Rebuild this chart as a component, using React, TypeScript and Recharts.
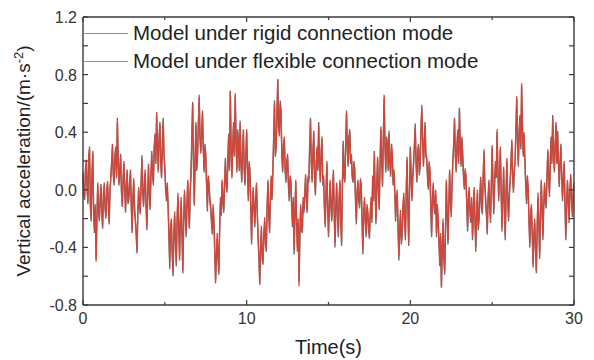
import React from "react";
import { LineChart, Line, XAxis, YAxis, Label } from "recharts";

const FONT = "'Liberation Sans', Arial, sans-serif";

// sampling step of the recorded signal, seconds
const STEP = 0.05;

// vertical acceleration, rigid connection mode (m/s^2) (one row per second)
const rigid = [
  0.12, -0.04, -0.07, 0.13, 0.19, 0.0, -0.1, 0.22, 0.28, -0.12, -0.22, 0.1, 0.27, -0.17, -0.3, -0.12, -0.48, -0.22, 0.03, -0.14,
  -0.22, -0.07, 0.04, -0.17, -0.27, -0.04, 0.03, -0.14, -0.2, -0.02, 0.06, -0.12, -0.24, -0.02, 0.08, 0.18, 0.3, 0.1, 0.03, 0.24,
  0.3, 0.08, 0.47, 0.22, 0.03, 0.13, 0.25, -0.02, -0.12, 0.06, 0.18, 0.0, -0.16, 0.03, 0.14, -0.1, -0.07, 0.04, 0.12, -0.12,
  -0.3, -0.07, 0.06, -0.14, -0.22, -0.32, -0.44, -0.17, 0.0, -0.12, -0.17, 0.03, 0.24, -0.02, -0.12, 0.03, 0.12, -0.1, -0.28, -0.07,
  0.16, -0.02, -0.14, 0.08, 0.27, 0.1, 0.03, 0.3, 0.39, 0.18, 0.52, 0.32, 0.12, 0.37, 0.47, 0.18, 0.08, 0.32, 0.5, 0.23,
  0.14, 0.0, -0.08, 0.03, -0.13, -0.33, -0.55, -0.28, -0.23, -0.45, -0.6, -0.33, -0.18, -0.38, -0.53, -0.23, -0.05, -0.28, -0.49, -0.23,
  -0.08, -0.33, -0.58, -0.23, -0.03, -0.18, -0.33, -0.12, 0.05, -0.14, -0.27, -0.02, 0.12, 0.37, 0.61, 0.18, -0.11, 0.22, 0.47, 0.13,
  0.23, 0.47, 0.64, 0.37, 0.27, 0.38, 0.55, 0.28, 0.12, 0.32, 0.23, 0.03, -0.15, 0.08, 0.03, -0.08, -0.13, -0.23, -0.31, -0.13,
  -0.24, -0.43, -0.63, -0.48, -0.34, -0.48, -0.59, -0.28, -0.08, -0.18, 0.05, -0.08, -0.16, 0.03, 0.22, 0.03, -0.02, 0.22, 0.39, 0.13,
  0.69, 0.28, 0.08, 0.32, 0.47, 0.23, 0.65, 0.37, 0.12, 0.42, 0.32, 0.13, 0.48, 0.18, 0.05, 0.27, 0.42, 0.13, 0.03, 0.23,
  0.4, 0.13, -0.08, 0.18, 0.12, -0.13, -0.38, -0.13, 0.0, -0.15, -0.26, -0.08, 0.03, -0.18, -0.35, -0.48, -0.66, -0.43, -0.28, -0.48,
  -0.52, -0.33, -0.22, -0.38, -0.43, -0.13, 0.05, -0.18, -0.3, -0.08, 0.08, -0.07, 0.12, 0.37, 0.62, 0.23, 0.28, 0.52, 0.77, 0.43,
  0.39, 0.62, 0.55, 0.23, 0.12, 0.32, 0.35, 0.13, 0.05, 0.18, 0.23, 0.03, -0.08, 0.08, 0.05, -0.13, -0.26, -0.08, -0.45, -0.18,
  0.05, -0.23, -0.43, -0.23, -0.64, -0.33, -0.12, -0.28, -0.3, -0.08, -0.16, -0.04, 0.09, -0.08, -0.16, 0.08, 0.05, 0.32, 0.5, 0.18,
  0.05, 0.27, 0.41, 0.08, -0.04, 0.18, 0.28, 0.13, 0.47, 0.18, 0.05, 0.27, 0.35, 0.03, 0.08, -0.13, -0.26, -0.03, 0.18, -0.13,
  -0.33, -0.13, 0.05, -0.13, -0.22, -0.03, 0.12, -0.18, -0.4, -0.13, 0.03, -0.18, -0.33, -0.08, 0.05, -0.23, -0.39, 0.03, 0.34, 0.08,
  0.05, 0.32, 0.53, 0.28, 0.16, 0.37, 0.42, 0.18, 0.23, 0.08, 0.05, 0.18, 0.13, -0.08, -0.24, -0.03, 0.05, -0.08, -0.13, 0.06,
  0.02, -0.23, -0.45, -0.18, -0.08, -0.23, -0.33, -0.13, -0.17, -0.28, -0.34, -0.18, -0.08, -0.23, 0.08, -0.08, 0.27, -0.02, -0.24, 0.03,
  0.21, -0.02, -0.14, 0.18, 0.42, 0.22, 0.02, 0.37, 0.64, 0.32, 0.12, 0.37, 0.32, 0.13, 0.41, 0.18, 0.09, 0.32, 0.23, 0.03,
  0.12, -0.03, -0.22, -0.08, -0.03, -0.28, -0.49, -0.28, -0.17, -0.38, -0.33, -0.13, -0.05, -0.23, -0.35, -0.03, 0.21, -0.13, -0.39, -0.03,
  0.3, 0.08, -0.08, 0.08, 0.18, 0.32, 0.46, 0.18, 0.05, 0.27, 0.32, 0.1, 0.16, 0.42, 0.57, 0.37, 0.16, 0.32, 0.47, 0.23,
  0.21, 0.08, 0.0, 0.18, 0.12, -0.13, -0.33, -0.08, 0.03, -0.13, -0.17, -0.03, -0.33, -0.13, -0.22, -0.38, -0.53, -0.33, -0.68, -0.43,
  -0.23, -0.48, -0.59, -0.28, 0.05, -0.18, -0.38, -0.13, 0.12, -0.08, -0.19, 0.03, 0.22, 0.32, 0.5, 0.23, 0.12, 0.32, 0.42, 0.18,
  0.57, 0.28, 0.16, 0.37, 0.23, 0.08, 0.0, 0.13, 0.08, -0.13, -0.29, -0.08, 0.0, -0.18, -0.23, -0.08, -0.35, -0.18, 0.0, -0.23,
  -0.43, -0.18, -0.02, -0.28, -0.21, -0.05, 0.07, -0.13, -0.17, 0.08, 0.28, 0.03, -0.08, -0.18, -0.31, -0.08, 0.05, -0.13, -0.23, 0.03,
  0.31, 0.03, -0.17, 0.03, 0.18, 0.08, 0.4, 0.13, -0.08, 0.1, 0.28, -0.02, -0.29, -0.08, 0.14, -0.13, -0.35, -0.03, 0.2, -0.08,
  -0.22, -0.05, 0.05, 0.18, 0.33, 0.08, -0.02, 0.13, 0.18, 0.42, 0.63, 0.33, 0.16, 0.42, 0.52, 0.28, 0.72, 0.43, 0.23, 0.38,
  0.19, 0.03, -0.1, 0.08, 0.0, -0.23, -0.4, -0.18, -0.13, -0.33, -0.54, -0.33, -0.23, -0.43, -0.58, -0.28, -0.05, -0.23, -0.48, -0.23,
  0.05, -0.13, -0.35, -0.13, 0.03, -0.08, -0.13, 0.08, 0.26, 0.08, -0.05, 0.18, 0.37, 0.18, 0.52, 0.28, 0.12, 0.32, 0.47, 0.18,
  0.41, 0.18, 0.02, 0.18, 0.32, 0.08, -0.08, 0.08, 0.18, -0.13, -0.35, -0.13, 0.05, -0.08, -0.23, -0.03, 0.09, -0.08, -0.19, -0.03,
  0.03,
];

// vertical acceleration, flexible connection mode (m/s^2)
const flexible = [
  0.1, -0.02, -0.05, 0.15, 0.21, 0.02, -0.08, 0.24, 0.3, -0.1, -0.2, 0.12, 0.25, -0.15, -0.28, -0.1, -0.5, -0.2, 0.05, -0.12,
  -0.2, -0.05, 0.02, -0.15, -0.25, -0.02, 0.05, -0.12, -0.18, 0.0, 0.04, -0.1, -0.22, 0.0, 0.1, 0.2, 0.32, 0.12, 0.05, 0.22,
  0.28, 0.1, 0.5, 0.2, 0.05, 0.15, 0.23, 0.0, -0.1, 0.08, 0.2, 0.02, -0.14, 0.05, 0.12, -0.08, -0.05, 0.06, 0.14, -0.1,
  -0.28, -0.05, 0.08, -0.12, -0.2, -0.3, -0.42, -0.15, 0.02, -0.1, -0.15, 0.05, 0.22, 0.0, -0.1, 0.05, 0.14, -0.08, -0.26, -0.05,
  0.18, 0.0, -0.12, 0.1, 0.25, 0.12, 0.05, 0.28, 0.37, 0.2, 0.54, 0.3, 0.14, 0.35, 0.45, 0.2, 0.1, 0.3, 0.48, 0.25,
  0.16, 0.02, -0.05, 0.05, -0.1, -0.3, -0.51, -0.25, -0.2, -0.42, -0.58, -0.3, -0.15, -0.35, -0.5, -0.2, -0.02, -0.25, -0.46, -0.2,
  -0.05, -0.3, -0.56, -0.2, 0.0, -0.15, -0.3, -0.1, 0.07, -0.12, -0.25, 0.0, 0.1, 0.35, 0.6, 0.2, -0.09, 0.2, 0.45, 0.15,
  0.25, 0.45, 0.66, 0.35, 0.25, 0.4, 0.53, 0.3, 0.14, 0.3, 0.25, 0.05, -0.12, 0.1, 0.05, -0.05, -0.1, -0.2, -0.28, -0.1,
  -0.21, -0.4, -0.65, -0.45, -0.3, -0.45, -0.56, -0.25, -0.05, -0.15, 0.07, -0.05, -0.14, 0.05, 0.2, 0.05, 0.0, 0.2, 0.37, 0.15,
  0.68, 0.3, 0.1, 0.3, 0.45, 0.25, 0.67, 0.35, 0.14, 0.4, 0.3, 0.15, 0.46, 0.2, 0.07, 0.25, 0.4, 0.15, 0.05, 0.25,
  0.42, 0.15, -0.05, 0.2, 0.14, -0.1, -0.35, -0.1, 0.02, -0.12, -0.23, -0.05, 0.05, -0.15, -0.32, -0.45, -0.65, -0.4, -0.25, -0.45,
  -0.49, -0.3, -0.19, -0.35, -0.4, -0.1, 0.07, -0.15, -0.28, -0.05, 0.1, -0.05, 0.14, 0.35, 0.6, 0.25, 0.3, 0.5, 0.76, 0.45,
  0.37, 0.6, 0.53, 0.25, 0.14, 0.3, 0.37, 0.15, 0.07, 0.2, 0.25, 0.05, -0.05, 0.1, 0.07, -0.1, -0.23, -0.05, -0.42, -0.15,
  0.07, -0.2, -0.4, -0.2, -0.67, -0.3, -0.1, -0.25, -0.28, -0.05, -0.14, -0.02, 0.11, -0.05, -0.14, 0.1, 0.07, 0.3, 0.48, 0.2,
  0.07, 0.25, 0.39, 0.1, -0.02, 0.2, 0.3, 0.15, 0.45, 0.2, 0.07, 0.25, 0.37, 0.05, 0.1, -0.1, -0.23, 0.0, 0.2, -0.1,
  -0.3, -0.1, 0.07, -0.1, -0.2, 0.0, 0.14, -0.15, -0.37, -0.1, 0.05, -0.15, -0.3, -0.05, 0.07, -0.2, -0.37, 0.05, 0.32, 0.1,
  0.07, 0.3, 0.55, 0.3, 0.18, 0.35, 0.4, 0.2, 0.25, 0.1, 0.07, 0.2, 0.15, -0.05, -0.21, 0.0, 0.07, -0.05, -0.1, 0.08,
  0.04, -0.2, -0.42, -0.15, -0.05, -0.2, -0.3, -0.1, -0.14, -0.25, -0.32, -0.15, -0.05, -0.2, 0.1, -0.05, 0.25, 0.0, -0.21, 0.05,
  0.23, 0.0, -0.12, 0.2, 0.44, 0.2, 0.04, 0.35, 0.66, 0.3, 0.14, 0.35, 0.3, 0.15, 0.39, 0.2, 0.11, 0.3, 0.25, 0.05,
  0.14, 0.0, -0.19, -0.05, 0.0, -0.25, -0.46, -0.25, -0.14, -0.35, -0.3, -0.1, -0.02, -0.2, -0.32, 0.0, 0.23, -0.1, -0.37, 0.0,
  0.28, 0.1, -0.05, 0.1, 0.2, 0.3, 0.44, 0.2, 0.07, 0.25, 0.3, 0.12, 0.18, 0.4, 0.59, 0.35, 0.18, 0.3, 0.45, 0.25,
  0.23, 0.1, 0.02, 0.2, 0.14, -0.1, -0.3, -0.05, 0.05, -0.1, -0.14, 0.0, -0.3, -0.1, -0.19, -0.35, -0.5, -0.3, -0.67, -0.4,
  -0.2, -0.45, -0.56, -0.25, 0.07, -0.15, -0.35, -0.1, 0.14, -0.05, -0.16, 0.05, 0.2, 0.3, 0.48, 0.25, 0.14, 0.3, 0.4, 0.2,
  0.55, 0.3, 0.18, 0.35, 0.25, 0.1, 0.02, 0.15, 0.1, -0.1, -0.26, -0.05, 0.02, -0.15, -0.2, -0.05, -0.32, -0.15, 0.02, -0.2,
  -0.4, -0.15, 0.0, -0.25, -0.19, -0.02, 0.09, -0.1, -0.14, 0.1, 0.26, 0.05, -0.05, -0.15, -0.28, -0.05, 0.07, -0.1, -0.2, 0.05,
  0.29, 0.05, -0.14, 0.05, 0.2, 0.1, 0.42, 0.15, -0.05, 0.12, 0.3, 0.0, -0.26, -0.05, 0.16, -0.1, -0.32, 0.0, 0.22, -0.05,
  -0.19, -0.02, 0.07, 0.2, 0.35, 0.1, 0.0, 0.15, 0.2, 0.4, 0.65, 0.35, 0.18, 0.4, 0.5, 0.3, 0.74, 0.45, 0.25, 0.4,
  0.21, 0.05, -0.07, 0.1, 0.02, -0.2, -0.37, -0.15, -0.1, -0.3, -0.51, -0.3, -0.2, -0.4, -0.56, -0.25, -0.02, -0.2, -0.45, -0.2,
  0.07, -0.1, -0.32, -0.1, 0.05, -0.05, -0.1, 0.1, 0.28, 0.1, -0.02, 0.2, 0.35, 0.2, 0.5, 0.3, 0.14, 0.3, 0.45, 0.2,
  0.39, 0.2, 0.04, 0.2, 0.3, 0.1, -0.05, 0.1, 0.2, -0.1, -0.32, -0.1, 0.07, -0.05, -0.2, 0.0, 0.11, -0.05, -0.16, 0.0,
  0.05,
];

const seriesNames = ["Model under rigid connection mode", "Model under flexible connection mode"];
const seriesColors = ["#6e6e6e", "#d2463a"];
const legendColors = ["#8a8a8a", "#ec6b5f"];

const xTicks = [0, 5, 10, 15, 20, 25, 30];
const xLabeled = [0, 10, 20, 30];
const yTicks = [-0.8, -0.6, -0.4, -0.2, 0, 0.2, 0.4, 0.6, 0.8, 1.0, 1.2];
const yLabeled = [-0.8, -0.4, 0, 0.4, 0.8, 1.2];

const data = rigid.map((v, i) => ({
  t: Math.round(i * STEP * 100) / 100,
  rigid: v,
  flexible: flexible[i],
}));

const AXIS = "#3a3a3a";

const BottomTick = (props: any) => {
  const { x, y, payload } = props;
  const major = xLabeled.includes(payload.value);
  return (
    <g>
      <line x1={x} x2={x} y1={y} y2={y - (major ? 5 : 3)} stroke={AXIS} strokeWidth={1.2} />
      {major && (
        <text x={x} y={y + 19} textAnchor="middle" fontSize={16} fill="#333" fontFamily={FONT}>
          {payload.value}
        </text>
      )}
    </g>
  );
};

const TopTick = (props: any) => {
  const { x, y, payload } = props;
  const major = xLabeled.includes(payload.value);
  return <line x1={x} x2={x} y1={y} y2={y + (major ? 5 : 3)} stroke={AXIS} strokeWidth={1.2} />;
};

const LeftTick = (props: any) => {
  const { x, y, payload } = props;
  const major = yLabeled.some((v) => Math.abs(v - payload.value) < 1e-6);
  return (
    <g>
      <line x1={x} x2={x + 5} y1={y} y2={y} stroke={AXIS} strokeWidth={1.2} />
      {major && (
        <text x={x - 6} y={y + 6} textAnchor="end" fontSize={16} fill="#333" fontFamily={FONT}>
          {payload.value.toFixed(1)}
        </text>
      )}
    </g>
  );
};

const RightTick = (props: any) => {
  const { x, y } = props;
  return <line x1={x} x2={x - 5} y1={y} y2={y} stroke={AXIS} strokeWidth={1.2} />;
};

const YTitle = (props: any) => {
  const { viewBox } = props;
  const cx = 30;
  const cy = viewBox.y + viewBox.height / 2;
  return (
    <text
      x={cx}
      y={cy}
      transform={`rotate(-90 ${cx} ${cy})`}
      textAnchor="middle"
      fontSize={19}
      fill="#222"
      fontFamily={FONT}
    >
      Vertical acceleration/(m·s
      <tspan dy={-7} fontSize={13}>-2</tspan>
      <tspan dy={7}>)</tspan>
    </text>
  );
};

const XTitle = (props: any) => {
  const { viewBox } = props;
  return (
    <text
      x={viewBox.x + viewBox.width / 2}
      y={viewBox.y + 49}
      textAnchor="middle"
      fontSize={20}
      fill="#222"
      fontFamily={FONT}
    >
      Time(s)
    </text>
  );
};

function LegendBox() {
  return (
    <div style={{ position: "absolute", left: 83, top: 19, fontFamily: FONT, fontSize: 20.5, color: "#222" }}>
      {seriesNames.map((name, i) => (
        <div key={name} style={{ position: "relative", height: 27.5, lineHeight: "27px", whiteSpace: "nowrap" }}>
          <span
            style={{ position: "absolute", left: 0, top: 14, width: 45, height: 1, background: legendColors[i] }}
          />
          <span style={{ marginLeft: 50 }}>{name}</span>
        </div>
      ))}
    </div>
  );
}

export default function App() {
  return (
    <div style={{ position: "relative", width: 594, height: 360, background: "#fff" }}>
      <style>{`body{margin:0}`}</style>
      <LineChart width={594} height={360} data={data} margin={{ top: 0, right: 0, bottom: 0, left: 0 }}>
        <XAxis
          xAxisId="bottom"
          dataKey="t"
          type="number"
          domain={[0, 30]}
          ticks={xTicks}
          interval={0}
          height={55}
          tickSize={0}
          tickMargin={0}
          tickLine={false}
          tick={<BottomTick />}
          axisLine={{ stroke: AXIS, strokeWidth: 1.4 }}
        >
          <Label content={<XTitle />} />
        </XAxis>
        <XAxis
          xAxisId="top"
          orientation="top"
          dataKey="t"
          type="number"
          domain={[0, 30]}
          ticks={xTicks}
          interval={0}
          height={17}
          tickSize={0}
          tickMargin={0}
          tickLine={false}
          tick={<TopTick />}
          axisLine={{ stroke: AXIS, strokeWidth: 1.4 }}
        />
        <YAxis
          yAxisId="left"
          type="number"
          domain={[-0.8, 1.2]}
          ticks={yTicks}
          interval={0}
          width={83}
          tickSize={0}
          tickMargin={0}
          tickLine={false}
          tick={<LeftTick />}
          axisLine={{ stroke: AXIS, strokeWidth: 1.4 }}
          allowDataOverflow
        >
          <Label content={<YTitle />} />
        </YAxis>
        <YAxis
          yAxisId="right"
          orientation="right"
          type="number"
          domain={[-0.8, 1.2]}
          ticks={yTicks}
          interval={0}
          width={20}
          tickSize={0}
          tickMargin={0}
          tickLine={false}
          tick={<RightTick />}
          axisLine={{ stroke: AXIS, strokeWidth: 1.4 }}
          allowDataOverflow
        />
        <Line
          xAxisId="bottom"
          yAxisId="left"
          type="linear"
          dataKey="rigid"
          name={seriesNames[0]}
          stroke={seriesColors[0]}
          strokeWidth={1.4}
          dot={false}
          isAnimationActive={false}
        />
        <Line
          xAxisId="bottom"
          yAxisId="left"
          type="linear"
          dataKey="flexible"
          name={seriesNames[1]}
          stroke={seriesColors[1]}
          strokeWidth={1.3}
          dot={false}
          isAnimationActive={false}
        />
      </LineChart>
      <LegendBox />
    </div>
  );
}
